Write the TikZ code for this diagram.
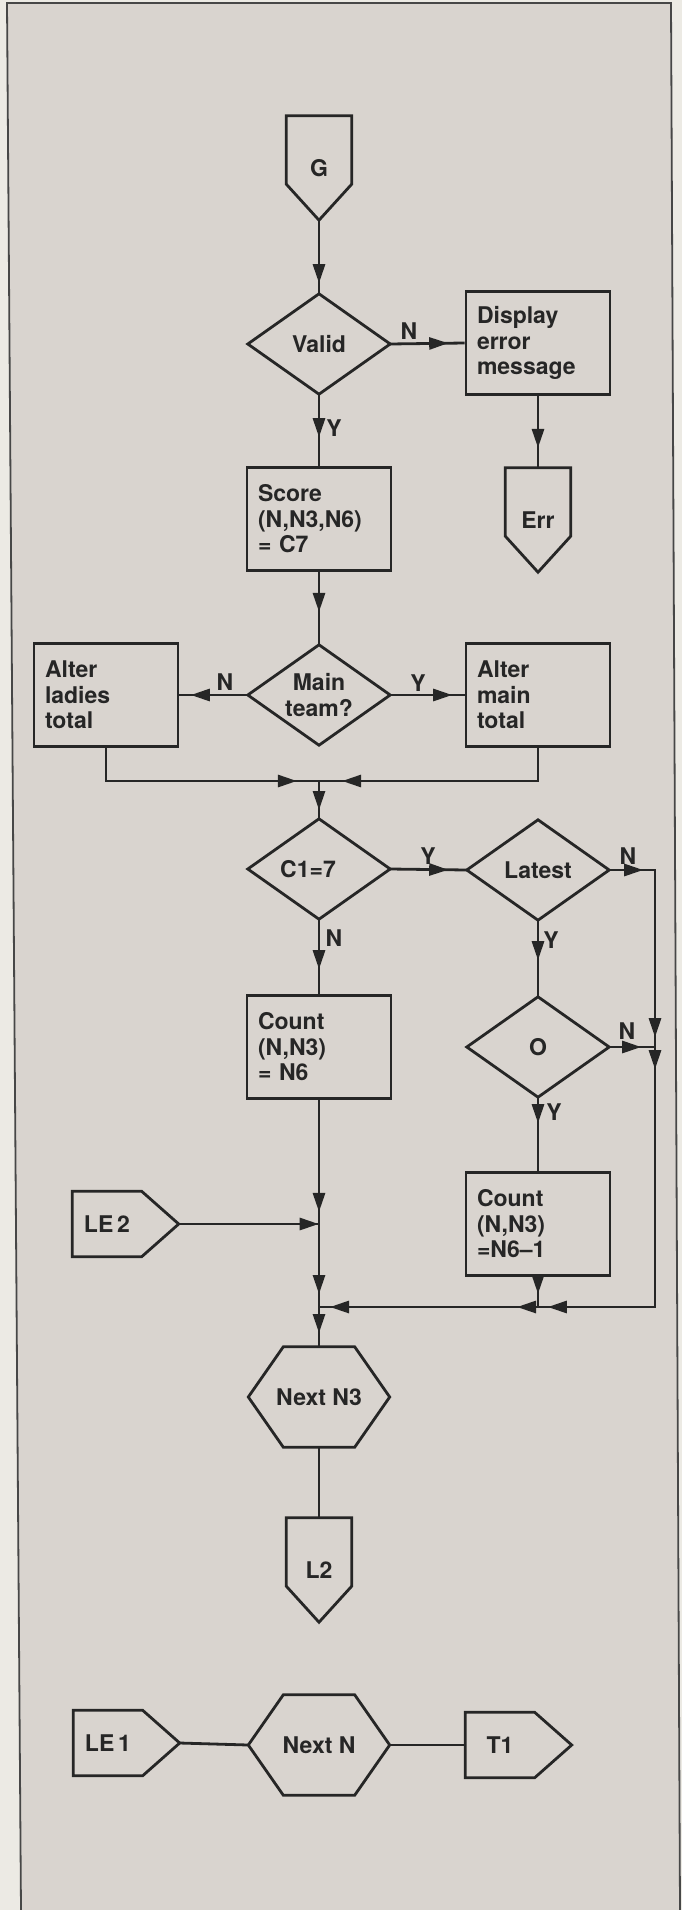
\documentclass[tikz,border=0pt]{standalone}
\usepackage{fontspec}
\setmainfont{TeX Gyre Heros}
\usetikzlibrary{arrows.meta,decorations.markings}
\definecolor{paper}{HTML}{D9D4CF}
\definecolor{margincol}{HTML}{ECEAE4}
\definecolor{inkc}{HTML}{262626}
\newcommand\lbl{\fontsize{23}{25.5}\selectfont\bfseries}
\newcommand\dmdline[1]{\draw[ln] (#1.north) -- (#1.east) -- (#1.south) -- (#1.west) -- cycle;}
\newcommand\hexline[1]{\draw[ln] ([xshift=35pt]#1.north west) -- ([xshift=-35pt]#1.north east) -- (#1.east) -- ([xshift=-35pt]#1.south east) -- ([xshift=35pt]#1.south west) -- (#1.west) -- cycle;}
\newcommand\dconline[1]{\draw[ln] (#1.north west) -- (#1.north east) -- ([yshift=36pt]#1.south east) -- (#1.south) -- ([yshift=36pt]#1.south west) -- cycle;}
\newcommand\rconline[1]{\draw[ln] (#1.north west) -- (#1.north east) -- ([xshift=37pt]#1.east) -- (#1.south east) -- (#1.south west) -- cycle;}
\tikzset{
  ln/.style={line width=2.8pt, draw=inkc, line join=miter},
  tips/.style={postaction={decorate,decoration={markings,#1}}},
  box/.style={rectangle, draw=inkc, line width=2.8pt, minimum width=144pt, minimum height=103pt, text width=122pt, inner xsep=11pt, inner ysep=0pt, align=left, font=\lbl, text=inkc},
  dmd/.style={rectangle, minimum width=142pt, minimum height=100pt, inner sep=0pt, align=center, font=\lbl, text=inkc},
  vcon/.style={rectangle, minimum width=65pt, minimum height=104pt, inner sep=0pt, font=\lbl, text=inkc},
  hcon/.style={rectangle, minimum width=69pt, minimum height=65pt, inner sep=0pt, font=\lbl, text=inkc},
  hexa/.style={rectangle, minimum width=141pt, minimum height=100pt, inner sep=0pt, font=\lbl, text=inkc},
  yn/.style={font=\lbl, inner sep=0pt, text=inkc},
}
\begin{document}
\begin{tikzpicture}[x=1pt, y=-1pt, >={Triangle[length=19pt,width=12pt]}]
\useasboundingbox (0,0) rectangle (682,1910);
\fill[margincol] (0,0) rectangle (682,1910);
\fill[paper] (7,3) -- (671,3) -- (680,1910) -- (21,1910) -- cycle;
\draw[line width=1.8pt, draw=inkc!85] (21,1910) -- (7,3) -- (671,3) -- (680,1910);

% nodes
\node[vcon] (G) at (319,168) {G};
\node[dmd] (Valid) at (319,344) {Valid};
\node[box] (Display) at (538,343) {Display\\error\\message};
\node[vcon] (Err) at (538,520) {Err};
\node[box] (Score) at (319,519) {Score\\(N,N3,N6)\\= C7};
\node[dmd] (Main) at (319,695) {Main\\team?};
\node[box] (Ladies) at (106,695) {Alter\\ladies\\total};
\node[box] (Maintotal) at (538,695) {Alter\\main\\total};
\node[dmd] (C1) at (319,869) {\hspace*{-22pt}C1=7};
\node[dmd] (Latest) at (538,870) {Latest};
\node[box] (Count1) at (319,1047) {Count\\(N,N3)\\= N6};
\node[dmd] (O) at (538,1047) {O};
\node[box] (Count2) at (538,1224) {Count\\(N,N3)\\=N6--1};
\node[hcon] (LE2) at (107,1224) {LE\,2};
\node[hexa] (NextN3) at (319,1397) {Next N3};
\node[vcon] (L2) at (319,1570) {L2};
\node[hcon] (LE1) at (108,1743) {LE\,1};
\node[hexa] (NextN) at (319,1745) {Next N};
\node[hcon] (T1) at (500,1745) {T1};

\dconline{G}
\dconline{Err}
\dconline{L2}
\dmdline{Valid}
\dmdline{Main}
\dmdline{C1}
\dmdline{Latest}
\dmdline{O}
\hexline{NextN3}
\hexline{NextN}
\rconline{LE2}
\rconline{LE1}
\rconline{T1}

% junction coordinates
\coordinate (LE2tip) at ([xshift=37pt]LE2.east);
\coordinate (LE1tip) at ([xshift=37pt]LE1.east);
\coordinate (M1) at (319,781);
\coordinate (RT) at (655,870);
\coordinate (ON) at (655,1047);
\coordinate (RB) at (655,1307);
\coordinate (J1) at (319,1224);
\coordinate (J2) at (538,1307);
\coordinate (J3) at (319,1307);

% connectors
\draw[ln, tips={mark=at position 63pt with {\arrow{>}}}] (G.south) -- (Valid.north);
\draw[ln, tips={mark=at position 58pt with {\arrow{>}}}] (Valid.east) -- (Display.west);
\draw[ln, tips={mark=at position 43pt with {\arrow{>}}}] (Valid.south) -- (Score.north);
\draw[ln, tips={mark=at position 52pt with {\arrow{>}}}] (Display.south) -- (Err.north);
\draw[ln, tips={mark=at position 40pt with {\arrow{>}}}] (Score.south) -- (Main.north);
\draw[ln, tips={mark=at position 57pt with {\arrow{>}}}] (Main.west) -- (Ladies.east);
\draw[ln, tips={mark=at position 62pt with {\arrow{>}}}] (Main.east) -- (Maintotal.west);
\draw[ln, tips={mark=at position 224pt with {\arrow{>}}}] (Ladies.south) |- (M1);
\draw[ln, tips={mark=at position 229pt with {\arrow{>}}}] (Maintotal.south) |- (M1);
\draw[ln, tips={mark=at position 29pt with {\arrow{>}}}] (M1) -- (C1.north);
\draw[ln, tips={mark=at position 58pt with {\arrow{>}}}] (C1.east) -- (Latest.west);
\draw[ln, tips={mark=at position 34pt with {\arrow{>}}, mark=at position 213pt with {\arrow{>}}, mark=at position 245pt with {\arrow{>}}, mark=at position 590pt with {\arrow{>}}}] (Latest.east) -- (RT) -- (RB) -- (J2);
\draw[ln, tips={mark=at position 32pt with {\arrow{>}}}] (O.east) -- (ON);
\draw[ln, tips={mark=at position 40pt with {\arrow{>}}}] (Latest.south) -- (O.north);
\draw[ln, tips={mark=at position 50pt with {\arrow{>}}}] (C1.south) -- (Count1.north);
\draw[ln, tips={mark=at position 26pt with {\arrow{>}}}] (O.south) -- (Count2.north);
\draw[ln, tips={mark=at position 17pt with {\arrow{>}}}] (Count2.south) -- (J2);
\draw[ln, tips={mark=at position 21pt with {\arrow{>}}, mark=at position 208pt with {\arrow{>}}}] (J2) -- (J3);
\draw[ln, tips={mark=at position 112pt with {\arrow{>}}}] (Count1.south) -- (J1);
\draw[ln, tips={mark=at position 140pt with {\arrow{>}}}] (LE2tip) -- (J1);
\draw[ln, tips={mark=at position 70pt with {\arrow{>}}}] (J1) -- (J3);
\draw[ln, tips={mark=at position 26pt with {\arrow{>}}}] (J3) -- (NextN3.north);
\draw[ln] (NextN3.south) -- (L2.north);
\draw[ln] (LE1tip) -- (NextN.west);
\draw[ln] (NextN.east) -- (T1.west);

% Y / N labels
\node[yn] (nValid) at (409,331) {N};
\node[yn] (yValid) at (334,428) {Y};
\node[yn] (nMain) at (225,682) {N};
\node[yn] (yMain) at (418,683) {Y};
\node[yn] (yC1) at (428,856) {Y};
\node[yn] (nLatest) at (628,856) {N};
\node[yn] (nC1) at (334,938) {N};
\node[yn] (yLatest) at (551,940) {Y};
\node[yn] (nO) at (627,1031) {N};
\node[yn] (yO) at (554,1112) {Y};
\end{tikzpicture}
\end{document}
